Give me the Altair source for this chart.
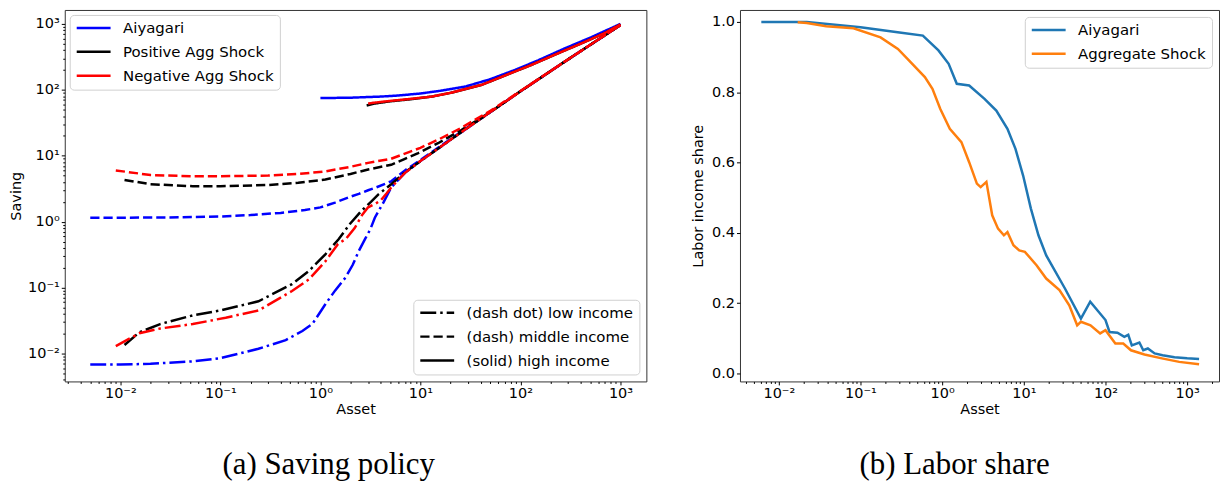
import altair as alt
import pandas as pd

# ---------------- Panel (a): saving policy ----------------
models = ["Aiyagari", "Positive Agg Shock", "Negative Agg Shock"]
incomes = ["(dash dot) low income", "(dash) middle income", "(solid) high income"]

# Aiyagari
aiy_low_x = [0.005, 0.01, 0.02, 0.053, 0.1, 0.24, 0.45, 0.66, 0.83, 1.12, 1.4, 1.78, 2.1, 2.42, 2.8, 3.16, 3.5, 4.3, 5.1, 7, 10, 20, 50, 100, 300, 1000]
aiy_low_y = [0.0068, 0.0068, 0.0070, 0.0076, 0.0085, 0.0118, 0.016, 0.022, 0.028, 0.056, 0.09, 0.142, 0.22, 0.36, 0.55, 0.77, 1.15, 2.0, 3.3, 5.5, 8.3, 17.5, 46, 95, 290, 960]
aiy_mid_x = [0.005, 0.01, 0.03, 0.1, 0.2, 0.4, 0.7, 1.0, 1.4, 2.0, 2.42, 3.0, 3.5, 5.1, 7, 10, 20, 50, 100, 300, 1000]
aiy_mid_y = [1.15, 1.15, 1.16, 1.2, 1.26, 1.36, 1.5, 1.65, 1.95, 2.4, 2.64, 3.0, 3.25, 4.1, 6.0, 8.6, 18, 46, 95, 290, 960]
aiy_high_x = [1, 2, 4, 6, 10, 16, 28, 50, 88, 150, 276, 500, 1000]
aiy_high_y = [75, 76, 79, 82, 88, 97, 112, 145, 200, 280, 424, 620, 1000]

# Positive aggregate shock
pos_low_x = [0.011, 0.0155, 0.025, 0.053, 0.1, 0.24, 0.52, 0.77, 1.12, 1.52, 2.0, 2.56, 3.2, 3.8, 5.1, 7, 10, 20, 50, 100, 300, 1000]
pos_low_y = [0.0135, 0.021, 0.028, 0.038, 0.045, 0.062, 0.113, 0.18, 0.32, 0.54, 0.95, 1.45, 2.0, 2.6, 3.7, 5.6, 8.3, 17.5, 46, 95, 290, 960]
pos_mid_x = [0.011, 0.02, 0.053, 0.1, 0.3, 0.6, 1.12, 2.0, 3.0, 5.1, 7, 9.5, 15, 25, 50, 100, 300, 1000]
pos_mid_y = [4.3, 3.7, 3.45, 3.45, 3.6, 3.9, 4.36, 5.3, 6.2, 7.3, 9.0, 11, 15.5, 24, 46, 95, 290, 960]
pos_high_x = [2.9, 3.5, 5, 8, 13, 20, 41, 70, 128, 250, 405, 700, 1000]
pos_high_y = [58, 62, 67, 72, 79, 90, 119, 165, 238, 370, 505, 730, 980]

# Negative aggregate shock
neg_low_x = [0.009, 0.0155, 0.025, 0.053, 0.113, 0.24, 0.52, 0.77, 1.12, 1.5, 1.8, 2.2, 2.6, 3.0, 3.5, 4.0, 4.6, 5.1, 7, 10, 20, 50, 100, 300, 1000]
neg_low_y = [0.013, 0.0203, 0.024, 0.028, 0.035, 0.045, 0.089, 0.134, 0.25, 0.46, 0.55, 0.8, 1.25, 1.65, 1.85, 2.1, 2.7, 3.3, 5.5, 8.3, 17.5, 46, 95, 290, 960]
neg_mid_x = [0.009, 0.02, 0.053, 0.1, 0.3, 0.6, 1.12, 2.0, 3.0, 5.1, 7, 10, 15, 25, 50, 100, 300, 1000]
neg_mid_y = [6.0, 5.1, 4.9, 4.9, 5.0, 5.3, 5.8, 6.8, 7.8, 9.0, 10.8, 13.2, 17.5, 26, 48, 96, 290, 960]
neg_high_x = [3, 3.5, 5, 8, 13, 20, 41, 70, 128, 250, 405, 700, 1000]
neg_high_y = [62, 64, 68, 73, 79, 90, 119, 165, 238, 370, 505, 730, 985]

# ---------------- Panel (b): labor share ----------------
share_models = ["Aiyagari", "Aggregate Shock"]
aiy_share_x = [0.0061, 0.022, 0.1, 0.3, 0.58, 0.9, 1.2, 1.51, 2.14, 3.3, 4.6, 6.3, 7.9, 9.8, 12.2, 15.1, 18.8, 32, 50, 65, 100, 112, 140, 170, 190, 210, 260, 290, 330, 400, 500, 700, 1000, 1400]
aiy_share_y = [1.0, 1.0, 0.985, 0.97, 0.961, 0.919, 0.881, 0.824, 0.819, 0.781, 0.748, 0.696, 0.639, 0.563, 0.469, 0.393, 0.336, 0.241, 0.156, 0.204, 0.152, 0.118, 0.116, 0.104, 0.11, 0.08, 0.088, 0.066, 0.071, 0.057, 0.052, 0.046, 0.043, 0.041]
agg_share_x = [0.017, 0.022, 0.038, 0.082, 0.176, 0.287, 0.376, 0.614, 0.76, 0.946, 1.24, 1.72, 2.14, 2.66, 2.96, 3.48, 4.1, 4.83, 5.7, 6.3, 7.46, 8.78, 10.3, 14.3, 18.8, 27.3, 36, 45, 50, 65.5, 86, 100, 132, 165, 205, 300, 490, 800, 1400]
agg_share_y = [0.999, 0.997, 0.988, 0.982, 0.956, 0.923, 0.895, 0.843, 0.81, 0.753, 0.696, 0.658, 0.601, 0.54, 0.53, 0.545, 0.45, 0.412, 0.393, 0.402, 0.365, 0.35, 0.346, 0.308, 0.27, 0.237, 0.194, 0.137, 0.147, 0.137, 0.114, 0.123, 0.085, 0.085, 0.066, 0.054, 0.043, 0.033, 0.026]

# ---------------- build tables ----------------
rows = []
series = [
    (models[0], incomes[0], aiy_low_x, aiy_low_y),
    (models[0], incomes[1], aiy_mid_x, aiy_mid_y),
    (models[0], incomes[2], aiy_high_x, aiy_high_y),
    (models[1], incomes[0], pos_low_x, pos_low_y),
    (models[1], incomes[1], pos_mid_x, pos_mid_y),
    (models[1], incomes[2], pos_high_x, pos_high_y),
    (models[2], incomes[0], neg_low_x, neg_low_y),
    (models[2], incomes[1], neg_mid_x, neg_mid_y),
    (models[2], incomes[2], neg_high_x, neg_high_y),
]
for m, inc, xs, ys in series:
    for x, y in zip(xs, ys):
        rows.append({"asset": x, "saving": y, "model": m, "income": inc})
df_a = pd.DataFrame(rows)

rows_b = []
for m, xs, ys in [(share_models[0], aiy_share_x, aiy_share_y), (share_models[1], agg_share_x, agg_share_y)]:
    for x, y in zip(xs, ys):
        rows_b.append({"asset": x, "share": y, "model": m})
df_b = pd.DataFrame(rows_b)


def log_ticks(lo, hi):
    vals = []
    for e in range(-4, 5):
        for k in range(1, 10):
            v = float(f"{k}e{e}")
            if lo <= v <= hi:
                vals.append(v)
    return vals


MAJOR = "abs(log(datum.value)/LN10 - round(log(datum.value)/LN10)) < 0.001"
LABEL = "(" + MAJOR + ") ? ['10⁻³','10⁻²','10⁻¹','10⁰','10¹','10²','10³'][round(log(datum.value)/LN10)+3] : ''"
TICK = {"condition": {"test": MAJOR, "value": 3.5}, "value": 2}

FONT = "DejaVu Sans"
FS = 14.5

xa_dom = [10 ** -2.556, 10 ** 3.259]
ya_dom = [10 ** -2.423, 10 ** 3.2115]

# horizontal line symbol, 34 px long, with a compact row height
legend_common = dict(
    title=None, symbolType="M-2.833,0H2.833", symbolSize=144, symbolStrokeWidth=2.5,
    symbolOffset=11, labelOffset=22,
    labelFont=FONT, labelFontSize=15, labelColor="black", fillColor="white",
    strokeColor="#d0d0d0", cornerRadius=4, padding=5.5, rowPadding=8,
    labelLimit=300,
)

left = alt.Chart(df_a).mark_line(strokeWidth=2.5, clip=True).encode(
    x=alt.X("asset:Q", scale=alt.Scale(type="log", domain=xa_dom, nice=False),
            axis=alt.Axis(title="Asset", values=log_ticks(*xa_dom), labelExpr=LABEL,
                          tickSize=TICK, labelOverlap=False, titlePadding=2)),
    y=alt.Y("saving:Q", scale=alt.Scale(type="log", domain=ya_dom, nice=False),
            axis=alt.Axis(title="Saving", values=log_ticks(*ya_dom), labelExpr=LABEL,
                          tickSize=TICK, labelOverlap=False, titlePadding=4)),
    color=alt.Color("model:N", scale=alt.Scale(domain=models, range=["#0000ff", "#000000", "#ff0000"]),
                    legend=alt.Legend(orient="top-left", offset=5, **legend_common)),
    strokeDash=alt.StrokeDash("income:N", scale=alt.Scale(domain=incomes, range=[[16, 4, 2.5, 4], [9.25, 4], [1, 0]]),
                              legend=alt.Legend(orient="bottom-right", offset=7, symbolStrokeColor="black", **legend_common)),
).properties(
    width=584, height=373,
    title=alt.TitleParams("(a) Saving policy", orient="bottom", font="Liberation Serif", fontSize=31,
                          fontWeight="normal", color="black", dx=-27, offset=34),
)

xb_dom = [10 ** -2.476, 10 ** 3.39]

right = alt.Chart(df_b).mark_line(strokeWidth=2.5, clip=True).encode(
    x=alt.X("asset:Q", scale=alt.Scale(type="log", domain=xb_dom, nice=False),
            axis=alt.Axis(title="Asset", values=log_ticks(*xb_dom), labelExpr=LABEL,
                          tickSize=TICK, labelOverlap=False, titlePadding=2)),
    y=alt.Y("share:Q", scale=alt.Scale(domain=[-0.02266, 1.034], nice=False, zero=False),
            axis=alt.Axis(title="Labor income share", values=[0, 0.2, 0.4, 0.6, 0.8, 1.0], format=".1f",
                          tickSize=3.5, titlePadding=6)),
    color=alt.Color("model:N", scale=alt.Scale(domain=share_models, range=["#1f77b4", "#ff7f0e"]),
                    legend=alt.Legend(orient="top-right", offset=7, **legend_common)),
).properties(
    width=481, height=373,
    title=alt.TitleParams("(b) Labor share", orient="bottom", font="Liberation Serif", fontSize=31,
                          fontWeight="normal", color="black", dx=-25, offset=34),
)

chart = alt.hconcat(left, right, spacing=42).resolve_scale(
    color="independent", strokeDash="independent", x="independent", y="independent"
).resolve_legend(
    color="independent", strokeDash="independent"
).properties(
    padding={"left": 0, "top": 0, "right": 0, "bottom": 0}
).configure_view(
    stroke="#333333", strokeWidth=1
).configure_axis(
    labelFont=FONT, labelFontSize=FS, labelColor="black", titleFont=FONT, titleFontSize=FS,
    titleFontWeight="normal", titleColor="black", tickColor="black", domain=False, grid=False,
    labelPadding=2,
)

chart.save("out.html", embed_options={"renderer": "svg", "actions": False})
